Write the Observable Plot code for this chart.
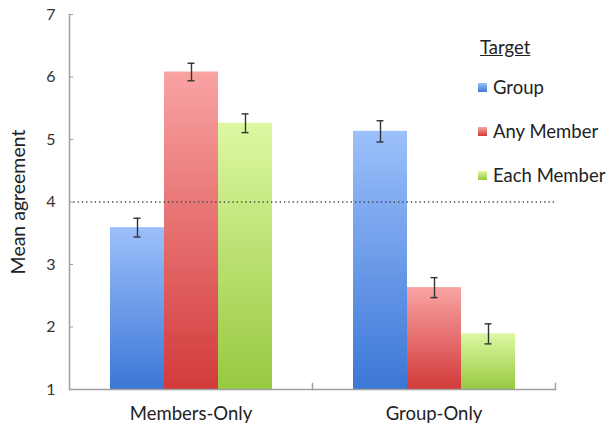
<!DOCTYPE html>
<html>
<head>
<meta charset="utf-8">
<script src="https://cdn.jsdelivr.net/npm/d3@7"></script>
<script src="https://cdn.jsdelivr.net/npm/@observablehq/plot@0.6"></script>
<style>
  html, body { margin: 0; padding: 0; background: #fff; }
  #wrap { position: relative; width: 609px; height: 429px; font-family: Lato, "Open Sans", sans-serif; }
  #legend { position: absolute; left: 478px; top: 36px; color: #222; font-size: 18.5px; }
  #legend .title { text-decoration: underline; margin-left: 2px; height: 29px; }
  #legend .item { display: flex; align-items: center; height: 44px; }
  #legend .sw { width: 9px; height: 9px; margin-right: 6px; }
</style>
</head>
<body>
<div id="wrap"><div id="legend"></div></div>
<script>
const conditions = ["Members-Only", "Group-Only"];
const targets = ["Group", "Any Member", "Each Member"];
const membersOnlyMeans = [3.59, 6.08, 5.26];
const membersOnlyErrors = [0.15, 0.14, 0.15];
const groupOnlyMeans = [5.13, 2.63, 1.89];
const groupOnlyErrors = [0.17, 0.16, 0.16];
const yTicks = [1, 2, 3, 4, 5, 6, 7];
const referenceLine = 4;
const legendTitle = "Target";
const yLabel = "Mean agreement";

const gradIds = ["gBlue", "gRed", "gGreen"];
const gradStops = [["#9cc0fb", "#3c77d6"], ["#f9a3a3", "#d23a3a"], ["#ddf8a2", "#97c941"]];

const data = [];
targets.forEach((t, i) => {
  data.push({condition: conditions[0], target: t, mean: membersOnlyMeans[i], err: membersOnlyErrors[i]});
  data.push({condition: conditions[1], target: t, mean: groupOnlyMeans[i], err: groupOnlyErrors[i]});
});

const plot = Plot.plot({
  width: 609,
  height: 429,
  marginLeft: 69,
  marginRight: 54,
  marginTop: 14,
  marginBottom: 40,
  style: {fontFamily: "Lato, 'Open Sans', sans-serif", color: "#222", background: "#fff"},
  fx: {domain: conditions, padding: 0, label: null},
  x: {domain: targets, paddingInner: 0, paddingOuter: 0.75, axis: null},
  y: {domain: [1, 7], ticks: yTicks},
  color: {domain: targets, range: gradIds.map(id => `url(#${id})`)},
  marks: [
    Plot.barY(data, {fx: "condition", x: "target", y1: 1, y2: "mean", fill: "target"}),
    Plot.ruleY([referenceLine], {stroke: "#444", strokeWidth: 1.3, strokeDasharray: "1.3,3"}),
    Plot.ruleY([1], {stroke: "#a0a0a0", strokeWidth: 1.5}),
    Plot.frame({anchor: "left", stroke: "#a0a0a0", strokeWidth: 1.5, fx: [conditions[0]]}),
    Plot.frame({anchor: "right", stroke: "#a0a0a0", strokeWidth: 1.5, insetTop: 369}),
    Plot.ruleX(data, {fx: "condition", x: "target", y1: d => d.mean - d.err, y2: d => d.mean + d.err, stroke: "#333", strokeWidth: 1.4}),
    Plot.tickY(data, {fx: "condition", x: "target", y: d => d.mean - d.err, stroke: "#333", strokeWidth: 1.4, insetLeft: 23.5, insetRight: 23.5}),
    Plot.tickY(data, {fx: "condition", x: "target", y: d => d.mean + d.err, stroke: "#333", strokeWidth: 1.4, insetLeft: 23.5, insetRight: 23.5}),
    Plot.axisY(yTicks, {anchor: "left", tickSize: -4, tickPadding: 18, stroke: "#a0a0a0", fontSize: 16, fill: "#333",
      tickFormat: "d", label: null}),
    Plot.text([yLabel], {fx: [conditions[0]], frameAnchor: "left", textAnchor: "middle", rotate: -90, dx: -51, fontSize: 19.5, fill: "#222"}),
    Plot.axisFx({anchor: "bottom", tickSize: 0, tickPadding: 17, fontSize: 18.5, fill: "#222", label: null})
  ]
});

const svg = d3.select(plot);
const defs = svg.insert("defs", ":first-child");
gradIds.forEach((id, i) => {
  const g = defs.append("linearGradient").attr("id", id).attr("x1", 0).attr("y1", 0).attr("x2", 0).attr("y2", 1);
  g.append("stop").attr("offset", "0%").attr("stop-color", gradStops[i][0]);
  g.append("stop").attr("offset", "100%").attr("stop-color", gradStops[i][1]);
});

document.getElementById("wrap").prepend(plot);

const legend = d3.select("#legend");
legend.append("div").attr("class", "title").text(legendTitle);
targets.forEach((t, i) => {
  const item = legend.append("div").attr("class", "item");
  item.append("div").attr("class", "sw").style("background", `linear-gradient(${gradStops[i][0]}, ${gradStops[i][1]})`);
  item.append("span").text(t);
});
</script>
</body>
</html>
